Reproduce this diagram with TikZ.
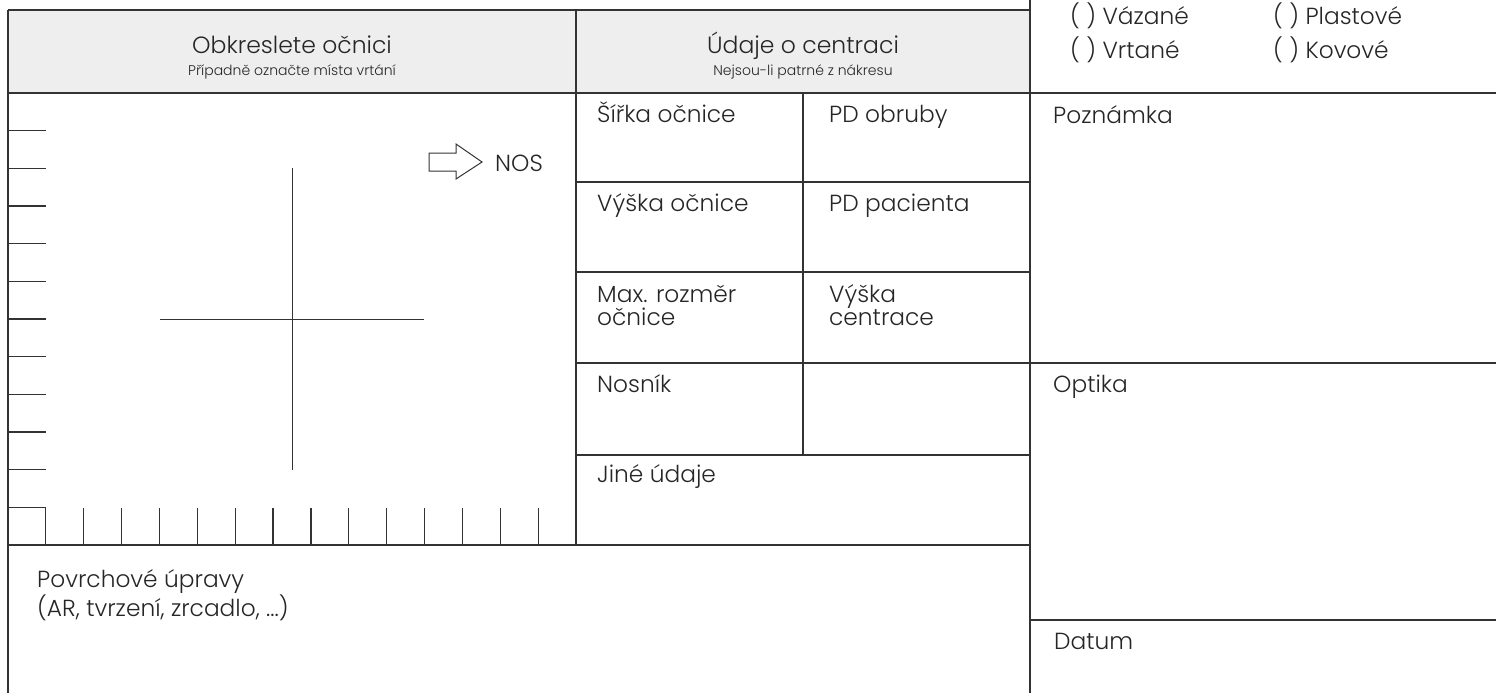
\documentclass[tikz,border=0pt]{standalone}
\usepackage{fontspec}
\setmainfont{Poppins Light}
\definecolor{rulegray}{HTML}{333333}
\definecolor{headgray}{HTML}{EDEEED}
\tikzset{
  frame/.style={draw=rulegray, line width=1.7pt},
  tick/.style={draw=rulegray, line width=1.2pt},
  thinline/.style={draw=rulegray, line width=1pt},
  lbl/.style={anchor=base west, inner sep=0pt, text=black!85, font=\fontsize{23.3}{23}\selectfont, align=left},
  head/.style={anchor=base, inner sep=0pt, text=black!85, font=\fontsize{23.5}{24}\selectfont},
  sub/.style={anchor=base, inner sep=0pt, text=black!85, font=\fontsize{14}{15}\selectfont},
}
\begin{document}
\begin{tikzpicture}[x=1pt,y=-1pt]
	\useasboundingbox (0,0) rectangle (1496,693);
	% header
	\fill[headgray] (8,10) rectangle (1030,93);
	\draw[frame] (8,10) -- (1030,10);
	\draw[frame] (8,10) -- (8,693);
	\draw[frame] (1030,0) -- (1030,693);
	\draw[frame] (8,93) -- (1496,93);
	\draw[frame] (576,10) -- (576,545);
	\draw[frame] (8,545) -- (1030,545);
	% cells
	\foreach \y in {182,272,455} \draw[frame] (576,\y) -- (1030,\y);
	\draw[frame] (576,363) -- (1496,363);
	\draw[frame] (803,93) -- (803,455);
	\draw[frame] (1030,620) -- (1496,620);
	% ruler
	\foreach \k in {1,...,11} \draw[tick] (8,{93+37.67*\k}) -- (46,{93+37.67*\k});
	\foreach \k in {1,...,14} \draw[tick] ({8+37.87*\k},508) -- ({8+37.87*\k},545);
	% cross and arrow
	\draw[thinline] (292,168) -- (292,470);
	\draw[thinline] (160,319) -- (424,319);
	\draw[thinline] (429,153) -- (456,153) -- (456,144) -- (482,162) -- (456,179) -- (456,171) -- (429,171) -- cycle;
	\node[lbl] (nos) at (495,171.5) {NOS};
	% headings
	\node[head] (obkres) at (292,53) {Obkreslete očnici};
	\node[sub] (obkressub) at (292,75) {Případně označte místa vrtání};
	\node[head] (udaje) at (803,53) {Údaje o centraci};
	\node[sub] (udajesub) at (803,75) {Nejsou-li patrné z nákresu};
	% cells text
	\node[lbl] (sirka) at (597,122) {Šířka očnice};
	\node[lbl] (pdobr) at (829,122) {PD obruby};
	\node[lbl] (vyska) at (597,211) {Výška očnice};
	\node[lbl] (pdpac) at (829,211) {PD pacienta};
	\node[lbl] (maxroz) at (597,325) {Max. rozměr\\očnice};
	\node[lbl] (vyscen) at (829,325) {Výška\\centrace};
	\node[lbl] (nosnik) at (597,392) {Nosník};
	\node[lbl] (jine) at (597,482) {Jiné údaje};
	\node[lbl] (povrch) at (37,616) {Povrchové úpravy\\(AR, tvrzení, zrcadlo, ...)};
	% right column
	\node[lbl] (vazane) at (1070,25) {( ) Vázané};
	\node[lbl] (plast) at (1273,25) {( ) Plastové};
	\node[lbl] (vrtane) at (1070,59) {( ) Vrtané};
	\node[lbl] (kovove) at (1273,59) {( ) Kovové};
	\node[lbl] (pozn) at (1053,123) {Poznámka};
	\node[lbl] (optika) at (1053,392) {Optika};
	\node[lbl] (datum) at (1054,649) {Datum};
\end{tikzpicture}
\end{document}
